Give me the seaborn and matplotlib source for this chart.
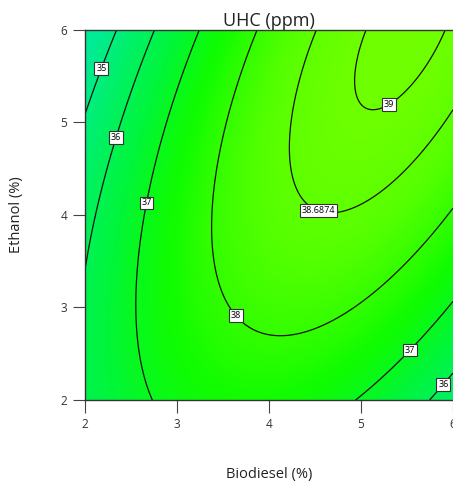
import numpy as np
import matplotlib
matplotlib.use("Agg")
import matplotlib.pyplot as plt
from matplotlib.colors import LinearSegmentedColormap, Normalize
import seaborn as sns

# ---- data (points lying on each contour) ----
bio_pts = [2.00, 2.35, 2.16,
           2.00, 2.76, 2.33,
           2.71, 3.23, 2.67, 2.65,
           3.87, 3.38, 3.65, 4.12, 4.66, 5.21, 6.00,
           4.52, 4.23, 4.36, 4.74, 5.67, 5.45, 6.00,
           5.07, 4.96, 5.13, 5.57, 5.89,
           4.96, 5.21, 5.51, 6.00,
           5.75, 5.88, 6.00]
eth_pts = [5.06, 6.00, 5.59,
           3.40, 6.00, 4.84,
           2.00, 6.00, 4.13, 3.84,
           6.00, 3.91, 2.92, 2.68, 2.83, 3.19, 4.05,
           6.00, 4.70, 4.16, 4.03, 4.70, 4.43, 5.10,
           6.00, 5.51, 5.15, 5.51, 6.00,
           2.00, 2.22, 2.56, 3.05,
           2.00, 2.18, 2.29]
uhc_pts = [35, 35, 35,
           36, 36, 36,
           37, 37, 37, 37,
           38, 38, 38, 38, 38, 38, 38,
           38.6874, 38.6874, 38.6874, 38.6874, 38.6874, 38.6874, 38.6874,
           39, 39, 39, 39, 39,
           37, 37, 37, 37,
           36, 36, 36]

levels = [35, 36, 37, 38, 38.6874, 39]
label_bio = [2.16, 2.33, 2.67, 3.65, 4.55, 5.28, 5.51, 5.88]
label_eth = [5.59, 4.84, 4.13, 2.92, 4.09, 5.23, 2.56, 2.18]
x_ticks = [2, 3, 4, 5, 6]
y_ticks = [2, 3, 4, 5, 6]

title = "UHC (ppm)"
xlabel = "Biodiesel (%)"
ylabel = "Ethanol (%)"

# ---- quadratic response surface fitted to the read contour points ----
bx = np.array(bio_pts); ey = np.array(eth_pts); zz = np.array(uhc_pts)
A = np.column_stack([np.ones_like(bx), bx, ey, bx * ey, bx ** 2, ey ** 2])
coef, *_ = np.linalg.lstsq(A, zz, rcond=None)

gx = np.linspace(2, 6, 300)
gy = np.linspace(2, 6, 300)
GX, GY = np.meshgrid(gx, gy)
GZ = (coef[0] + coef[1] * GX + coef[2] * GY + coef[3] * GX * GY
      + coef[4] * GX ** 2 + coef[5] * GY ** 2)

sns.set_theme(style="white")
plt.rcParams["font.family"] = ["Open Sans", "DejaVu Sans"]

fig = plt.figure(figsize=(4.53, 4.87), dpi=100)
ax = fig.add_axes([85 / 453, 1 - 400 / 487, 368 / 453, 370 / 487])

cmap = LinearSegmentedColormap.from_list(
    "de", [(0.0, "#00eb96"), (0.2, "#00f06a"), (0.4, "#00f53c"),
           (0.6, "#10fc00"), (0.8, "#55ff00"), (1.0, "#85ff00")])
norm = Normalize(vmin=34.5, vmax=39.5)
ax.pcolormesh(GX, GY, GZ, cmap=cmap, norm=norm, shading="gouraud", zorder=1)

cs = ax.contour(GX, GY, GZ, levels=levels, colors="#111111", linewidths=0.9, zorder=2)


def fmt(v):
    return "%d" % v if abs(v - round(v)) < 1e-6 else "%.4f" % v


texts = ax.clabel(cs, levels=levels, fmt=fmt, inline=False, fontsize=6.5,
                  manual=list(zip(label_bio, label_eth)), zorder=3)
for t in texts:
    t.set_rotation(0)
    t.set_color("black")
    t.set_bbox(dict(boxstyle="square,pad=0.2", fc="white", ec="#333333", lw=0.8))

ax.set_xlim(2, 6)
ax.set_ylim(2, 6)
ax.set_xticks(x_ticks)
ax.set_yticks(y_ticks)
ax.set_xticklabels([str(v) for v in x_ticks])
ax.set_yticklabels([str(v) for v in y_ticks])
ax.tick_params(axis="both", which="both", direction="out", length=9, width=0.8,
               color="#444444", labelsize=8.5, labelcolor="#333333",
               bottom=True, left=True, pad=4)
for side in ["left", "bottom", "top"]:
    ax.spines[side].set_visible(True)
    ax.spines[side].set_color("#333333")
    ax.spines[side].set_linewidth(1.0)
ax.spines["right"].set_visible(False)

ax.set_title(title, fontsize=13, color="#222222", pad=2)
ax.set_xlabel(xlabel, fontsize=10.5, color="#222222", labelpad=26)
ax.set_ylabel(ylabel, fontsize=10.5, color="#222222", labelpad=26)

fig.savefig("out.png", dpi=100)
